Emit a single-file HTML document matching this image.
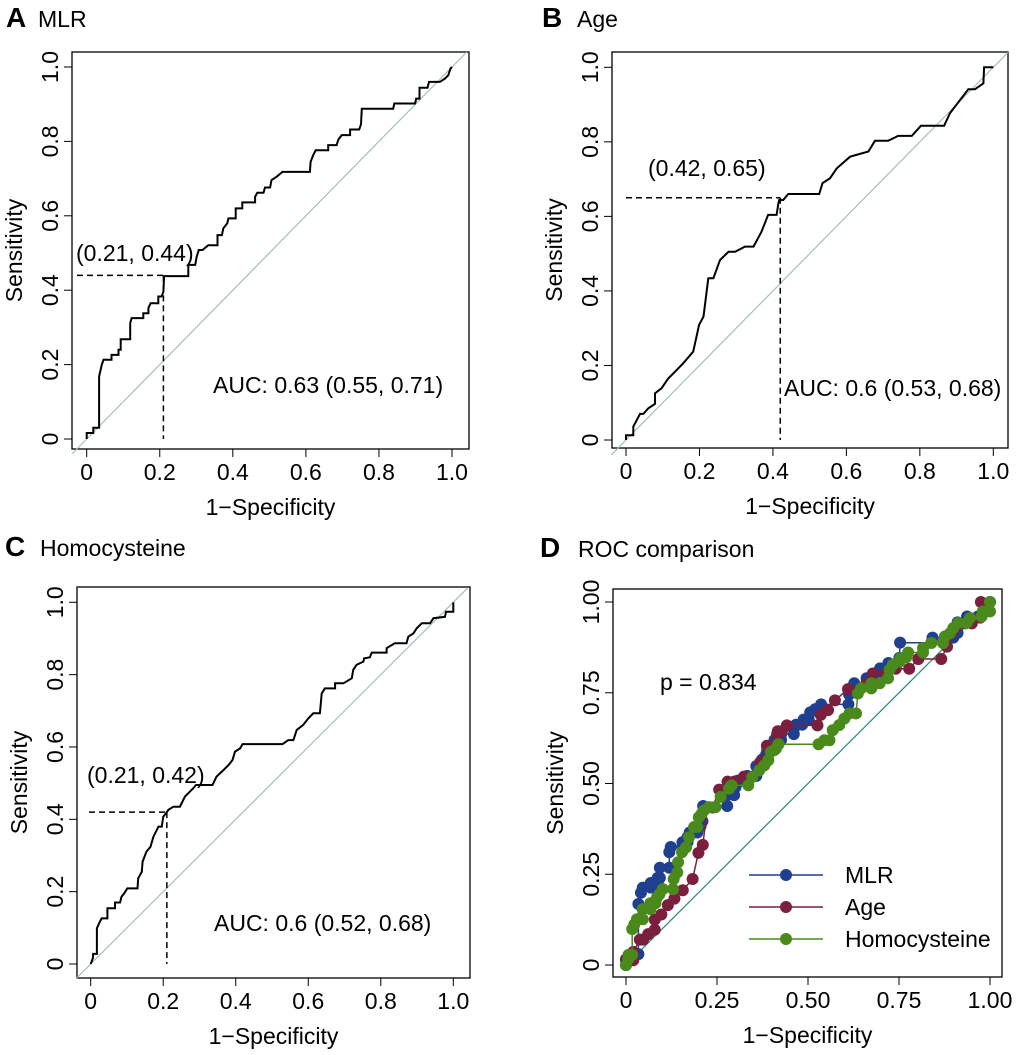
<!DOCTYPE html>
<html><head><meta charset="utf-8"><style>
html,body{margin:0;padding:0;background:#fff}
svg{display:block;font-family:"Liberation Sans",Arial,sans-serif}
</style></head><body>
<svg id="fig" width="1020" height="1055" viewBox="0 0 1020 1055" xmlns="http://www.w3.org/2000/svg"></svg>
<script>
const mlrFpr=[0,0,.018,.018,.034,.034,.041,.046,.068,.068,.087,.087,.093,.093,.119,.119,.123,.155,.155,.169,.169,.175,.196,.196,.205,.210,.212,.278,.278,.297,.301,.307,.317,.333,.358,.358,.370,.374,.385,.388,.408,.408,.426,.426,.461,.461,.467,.484,.488,.502,.506,.520,.536,.611,.613,.620,.627,.661,.661,.684,.689,.698,.721,.721,.746,.751,.753,.839,.842,.899,.902,.911,.911,.933,.937,.967,.981,.990,.996,1];
const mlrTpr=[0,.016,.016,.030,.030,.168,.199,.213,.213,.226,.226,.240,.240,.268,.268,.311,.325,.325,.338,.338,.352,.365,.365,.383,.383,.396,.438,.438,.468,.468,.490,.508,.508,.521,.521,.548,.548,.566,.580,.593,.593,.620,.620,.636,.636,.651,.662,.662,.676,.676,.696,.705,.718,.718,.745,.763,.776,.776,.790,.790,.805,.817,.817,.832,.832,.846,.888,.888,.902,.902,.915,.915,.944,.944,.960,.960,.969,.978,.996,1];
const ageFpr=[0,0,.020,.020,.038,.047,.061,.079,.079,.097,.115,.133,.156,.183,.199,.211,.224,.238,.256,.279,.297,.324,.347,.369,.387,.410,.415,.417,.428,.442,.526,.535,.555,.574,.610,.660,.678,.714,.741,.778,.803,.866,.882,.932,.950,.973,.975,1];
const ageTpr=[0,.013,.013,.036,.070,.070,.085,.097,.125,.139,.165,.183,.206,.237,.309,.331,.434,.434,.483,.505,.505,.519,.519,.559,.604,.604,.635,.644,.644,.660,.660,.689,.702,.729,.760,.774,.803,.803,.816,.816,.843,.843,.877,.941,.941,.957,1,1];
const hcyFpr=[0,.006,.007,.017,.017,.023,.030,.046,.046,.067,.067,.081,.085,.092,.101,.129,.131,.141,.143,.154,.165,.173,.187,.196,.200,.208,.214,.228,.246,.260,.283,.290,.336,.347,.366,.380,.391,.398,.412,.419,.529,.545,.559,.568,.586,.600,.614,.632,.637,.646,.674,.674,.697,.720,.724,.733,.752,.754,.770,.775,.816,.816,.839,.871,.876,.890,.899,.913,.936,.945,.977,.980,1,1];
const hcyTpr=[0,.016,.028,.028,.099,.112,.126,.126,.154,.154,.170,.170,.186,.195,.209,.209,.237,.255,.283,.311,.324,.352,.380,.380,.407,.417,.426,.435,.435,.463,.486,.495,.495,.518,.536,.550,.564,.587,.596,.608,.608,.619,.619,.647,.661,.679,.693,.693,.748,.762,.762,.776,.776,.790,.813,.827,.836,.845,.848,.861,.861,.873,.887,.887,.905,.914,.928,.942,.942,.956,.960,.974,.974,1];
const ticks01=[0,0.2,0.4,0.6,0.8,1.0];
const tickLab01=["0","0.2","0.4","0.6","0.8","1.0"];
const ticksD=[0,0.25,0.5,0.75,1];
const tickLabD=["0","0.25","0.50","0.75","1.00"];
const cutA=[0.21,0.44], cutB=[0.42,0.65], cutC=[0.21,0.42];
const aucA="AUC: 0.63 (0.55, 0.71)", aucB="AUC: 0.6 (0.53, 0.68)", aucC="AUC: 0.6 (0.52, 0.68)";

const NS="http://www.w3.org/2000/svg";
const svg=document.getElementById('fig');
function mk(tag,attrs,parent,text){const e=document.createElementNS(NS,tag);for(const k in attrs)e.setAttribute(k,attrs[k]);if(text!==undefined)e.textContent=text;(parent||svg).appendChild(e);return e;}
const FS=23;

function panel(id,g){
  const grp=mk('g',{});
  
  
  const X=v=>g.x0+(g.x1-g.x0)*v, Y=v=>g.y0+(g.y1-g.y0)*v;
  const box=mk('rect',{x:g.bl,y:g.bt,width:g.br-g.bl,height:g.bb-g.bt,fill:'none',stroke:'#000','stroke-width':1.3},grp);
  
  const lt=mk('text',{x:g.lx,y:g.ly,'font-size':28,'font-weight':'bold'},grp,g.letter);
  
  const tt=mk('text',{x:g.tx,y:g.ly,'font-size':FS},grp,g.title);
  
  const xa=mk('g',{},grp);
  mk('line',{x1:X(g.ticks[0]),x2:X(g.ticks[g.ticks.length-1]),y1:g.bb,y2:g.bb,stroke:'#000','stroke-width':1},xa);
  g.ticks.forEach((t,i)=>{
    mk('line',{x1:X(t),x2:X(t),y1:g.bb,y2:g.bb+8,stroke:'#000','stroke-width':1},xa);
    const tl=mk('text',{x:X(t),y:g.bb+31,'font-size':FS,'text-anchor':'middle'},xa,g.labs[i]);
    
  });
  const ya=mk('g',{},grp);
  g.ticks.forEach((t,i)=>{
    mk('line',{x1:g.bl,x2:g.bl-8,y1:Y(t),y2:Y(t),stroke:'#000','stroke-width':1},ya);
    const tl=mk('text',{x:0,y:0,'font-size':FS,'text-anchor':'middle',transform:`translate(${g.bl-14},${Y(t)}) rotate(-90)`},ya,g.labs[i]);
    
  });
  const xt=mk('text',{x:(g.bl+g.br)/2,y:g.bb+66,'font-size':FS,'text-anchor':'middle'},grp,'1\u2212Specificity');
  
  const yt=mk('text',{x:0,y:0,'font-size':FS,'text-anchor':'middle',transform:`translate(${g.bl-50},${(g.bt+g.bb)/2}) rotate(-90)`},grp,'Sensitivity');
  
  const e0=g.diagClip?0:-0.04, e1=g.diagClip?1:1.04;
  const dg=mk('line',{x1:X(e0),y1:Y(e0),x2:X(e1),y2:Y(e1),stroke:g.diagColor,'stroke-width':1.2},grp);
  
  return {grp,X,Y};
}

function single(id,g,fpr,tpr,cut,cutLab,cutPos,auc,aucPos){
  const p=panel(id,g);
  const d=fpr.map((v,i)=>(i?'L':'M')+p.X(v).toFixed(1)+','+p.Y(tpr[i]).toFixed(1)).join('');
  const c=mk('path',{d,fill:'none',stroke:'#000','stroke-width':2},p.grp);
  
  const hd=mk('line',{x1:g.dashStart,x2:p.X(cut[0]),y1:p.Y(cut[1]),y2:p.Y(cut[1]),stroke:'#000','stroke-width':1.5,'stroke-dasharray':'6,4'},p.grp);
  
  const vd=mk('line',{x1:p.X(cut[0]),x2:p.X(cut[0]),y1:p.Y(cut[1]),y2:p.Y(0),stroke:'#000','stroke-width':1.5,'stroke-dasharray':'6,4'},p.grp);
  
  const cl=mk('text',{x:cutPos[0],y:cutPos[1],'font-size':FS},p.grp,cutLab);
  
  const al=mk('text',{x:aucPos[0],y:aucPos[1],'font-size':FS},p.grp,auc);
  
}

single('mlr',{bl:72,br:469,bt:52,bb:449,x0:86.7,x1:452,y0:439,y1:67,ticks:ticks01,labs:tickLab01,letter:'A',title:'MLR',lx:6,tx:38,ly:27,diagColor:'#a9bcc2',dashStart:77},
  mlrFpr,mlrTpr,cutA,'(0.21, 0.44)',[76,261],aucA,[213,393]);
single('age',{bl:612,br:1008,bt:52,bb:448,x0:626,x1:993.3,y0:440,y1:67.3,ticks:ticks01,labs:tickLab01,letter:'B',title:'Age',lx:542,tx:577,ly:27,diagColor:'#a9bcc2',dashStart:626},
  ageFpr,ageTpr,cutB,'(0.42, 0.65)',[648,176],aucB,[784,396]);
single('hcy',{bl:77,br:470,bt:587,bb:978,x0:90.7,x1:453.3,y0:964,y1:602.3,ticks:ticks01,labs:tickLab01,letter:'C',title:'Homocysteine',lx:5,tx:40,ly:556,diagColor:'#a9bcc2',dashStart:89},
  hcyFpr,hcyTpr,cutC,'(0.21, 0.42)',[87,783],aucC,[214,931]);

// Panel D
const gD={bl:613,br:1002,bt:589,bb:977,x0:626,x1:990,y0:965,y1:602,ticks:ticksD,labs:tickLabD,letter:'D',title:'ROC comparison',lx:540,tx:578,ly:557,diagColor:'#2a8a7a',dashStart:0,diagClip:true};
const pD=panel('comparison',gD);
const seriesNames=['MLR','Age','Homocysteine'];
const seriesColors=['#1f3f8f','#7a1f3d','#4a8a1c'];
const seriesData=[[mlrFpr,mlrTpr],[ageFpr,ageTpr],[hcyFpr,hcyTpr]];
seriesData.forEach((s,k)=>{
  const sg=mk('g',{},pD.grp);
  
  
  const d=s[0].map((v,i)=>(i?'L':'M')+pD.X(v).toFixed(1)+','+pD.Y(s[1][i]).toFixed(1)).join('');
  mk('path',{d,fill:'none',stroke:seriesColors[k],'stroke-width':1.5},sg);
  s[0].forEach((v,i)=>{
    const c=mk('circle',{cx:pD.X(v),cy:pD.Y(s[1][i]),r:6,fill:seriesColors[k]},sg);
    
    
  });
});
const pt=mk('text',{x:660,y:690,'font-size':FS},pD.grp,'p = 0.834');

const leg=mk('g',{},pD.grp);
seriesNames.forEach((n,k)=>{
  const y=875+k*32;
  const e=mk('g',{},leg);
  
  
  mk('line',{x1:749,x2:823,y1:y,y2:y,stroke:seriesColors[k],'stroke-width':1.5},e);
  mk('circle',{cx:786,cy:y,r:6,fill:seriesColors[k]},e);
  mk('text',{x:845,y:y+8,'font-size':FS},e,n);
});
</script>
</body></html>
